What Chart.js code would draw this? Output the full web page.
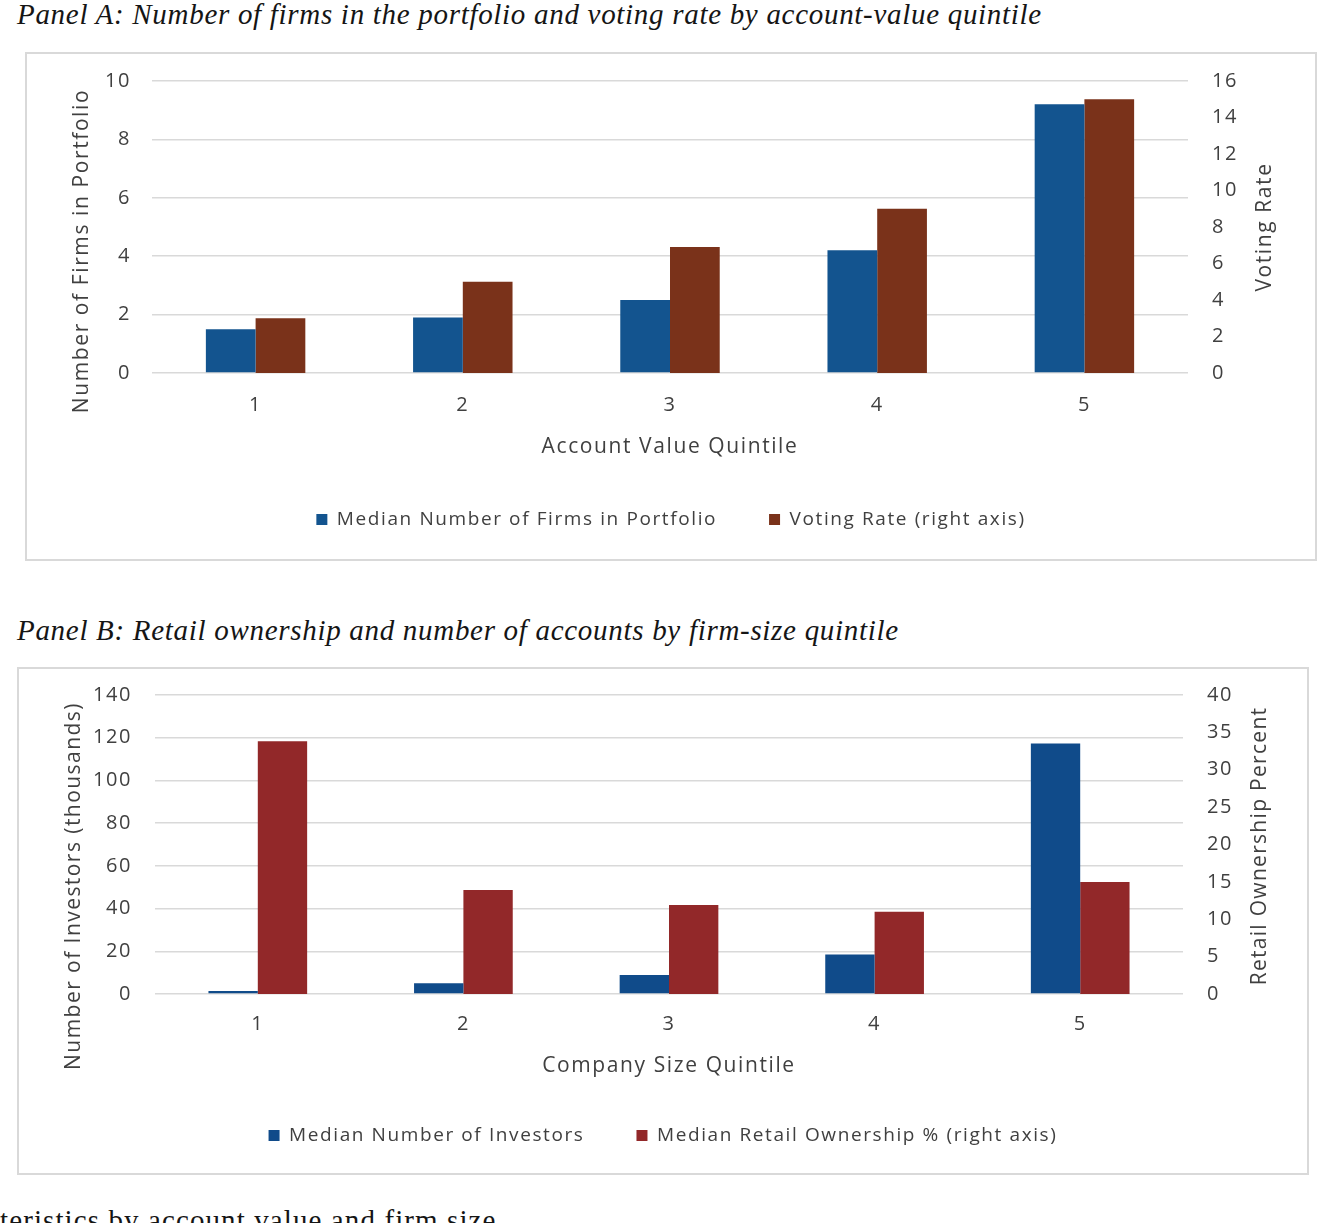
<!DOCTYPE html>
<html>
<head>
<meta charset="utf-8">
<script src="https://cdn.jsdelivr.net/npm/chart.js@4.4.0/dist/chart.umd.min.js"></script>
<style>
  body { margin: 0; background: #fff; width: 1334px; height: 1223px; overflow: hidden; position: relative; }
  .panel-title { position: absolute; left: 17px; font-family: "Liberation Serif", "Times New Roman", serif;
                 font-style: italic; font-size: 29px; line-height: 29px; letter-spacing: 0.7px;
                 color: #151515; white-space: nowrap; }
  .box { position: absolute; border: 2px solid #d9d9d9; }
  .box canvas { position: absolute; left: 0; top: 0; }
  .caption { position: absolute; left: 0; top: 1206px; font-family: "Liberation Serif", "Times New Roman", serif;
             font-size: 29px; line-height: 29px; letter-spacing: 1.1px; color: #151515; white-space: nowrap; }
</style>
</head>
<body>
<div class="panel-title" style="top:0px">Panel A: Number of firms in the portfolio and voting rate by account-value quintile</div>
<div class="box" style="left:25px; top:52px; width:1288px; height:505px">
  <canvas id="panelA" width="1288" height="505"></canvas>
</div>
<div class="panel-title" style="top:616px">Panel B: Retail ownership and number of accounts by firm-size quintile</div>
<div class="box" style="left:17px; top:667px; width:1288px; height:504px">
  <canvas id="panelB" width="1288" height="504"></canvas>
</div>
<div class="caption">teristics by account value and firm size</div>

<script>
// Panel A data
const accountQuintiles = ['1', '2', '3', '4', '5'];
const medianFirms = [1.5, 1.9, 2.5, 4.2, 9.2];
const votingRate = [3.0, 5.0, 6.9, 9.0, 15.0];

// Panel B data
const sizeQuintiles = ['1', '2', '3', '4', '5'];
const medianInvestors = [1.4, 5.0, 8.9, 18.5, 117.3];
const retailOwnership = [33.8, 13.9, 11.9, 11.0, 15.0];

const FONT = '"Open Sans", "Noto Sans", sans-serif';
const TEXT = '#404040';
const SPACING = '1.6px';

// the Excel-style text is spaced wider than Open Sans
const letterSpacing = {
    id: 'letterSpacing',
    beforeLayout(chart) { chart.ctx.letterSpacing = SPACING; },
    beforeDraw(chart) { chart.ctx.letterSpacing = SPACING; }
};

// vertical axis titles, read bottom-to-top on both sides
const sideTitles = {
    id: 'sideTitles',
    afterDraw(chart, args, opts) {
        const ctx = chart.ctx;
        (opts.items || []).forEach(t => {
            ctx.save();
            ctx.translate(t.x, t.y);
            ctx.rotate(-Math.PI / 2);
            ctx.font = `${t.size}px ${FONT}`;
            ctx.letterSpacing = t.spacing;
            ctx.fillStyle = TEXT;
            ctx.textAlign = 'center';
            ctx.textBaseline = 'middle';
            ctx.fillText(t.text, 0, 0);
            ctx.restore();
        });
    }
};

// fixed axis width, and no extra room reserved above/below for the tick labels
function fixWidth(w) {
    return s => {
        s.width = w;
        s.paddingTop = 0;
        s.paddingBottom = 0;
    };
}

function makeChart(id, cfg) {
    const ctx = document.getElementById(id).getContext('2d');
    return new Chart(ctx, {
        type: 'bar',
        data: {
            labels: cfg.labels,
            datasets: [
                { label: cfg.leftLabel, data: cfg.leftData, backgroundColor: cfg.leftColor, yAxisID: 'y' },
                { label: cfg.rightLabel, data: cfg.rightData, backgroundColor: cfg.rightColor, yAxisID: 'y1' }
            ]
        },
        plugins: [letterSpacing, sideTitles],
        options: {
            responsive: false,
            animation: false,
            devicePixelRatio: 1,
            datasets: { bar: { categoryPercentage: 0.48, barPercentage: 1.0, borderWidth: 0 } },
            layout: { padding: cfg.padding },
            plugins: {
                legend: {
                    position: 'bottom',
                    labels: {
                        boxWidth: 11, boxHeight: 11, padding: 52,
                        color: TEXT, font: { family: FONT, size: 19 }
                    }
                },
                tooltip: { enabled: false },
                sideTitles: { items: cfg.titles }
            },
            scales: {
                x: {
                    grid: { display: false },
                    border: { display: false },
                    ticks: { color: TEXT, padding: cfg.xPad, font: { family: FONT, size: 20 } },
                    title: {
                        display: true, text: cfg.xTitle, color: TEXT,
                        padding: { top: 0, bottom: cfg.xTitleShift }, font: { family: FONT, size: 21 }
                    },
                    afterFit: s => { s.height = cfg.xHeight; }
                },
                y: {
                    position: 'left',
                    min: 0, max: cfg.leftMax,
                    grid: { color: '#d9d9d9', lineWidth: 1.5, drawTicks: false },
                    border: { display: false },
                    ticks: { stepSize: cfg.leftStep, color: TEXT, padding: cfg.leftPad, font: { family: FONT, size: 20 } },
                    afterFit: fixWidth(cfg.leftWidth)
                },
                y1: {
                    position: 'right',
                    min: 0, max: cfg.rightMax,
                    grid: { display: false, drawTicks: false },
                    border: { display: false },
                    ticks: { stepSize: cfg.rightStep, color: TEXT, padding: 24, font: { family: FONT, size: 20 } },
                    afterFit: fixWidth(cfg.rightWidth)
                }
            }
        }
    });
}

document.addEventListener('DOMContentLoaded', () => {
    makeChart('panelA', {
        labels: accountQuintiles,
        leftLabel: 'Median Number of Firms in Portfolio', leftData: medianFirms, leftColor: '#13548f',
        rightLabel: 'Voting Rate (right axis)', rightData: votingRate, rightColor: '#7a321a',
        leftMax: 10, leftStep: 2, rightMax: 16, rightStep: 2,
        leftWidth: 125, rightWidth: 127, leftPad: 21, xPad: 12, xHeight: 85, xTitleShift: -2,
        xTitle: 'Account Value Quintile',
        padding: { top: 27, bottom: 20 },
        titles: [
            { text: 'Number of Firms in Portfolio', x: 55, y: 197, size: 21, spacing: '1.6px' },
            { text: 'Voting Rate', x: 1238, y: 173, size: 21, spacing: '1.6px' }
        ]
    });
    makeChart('panelB', {
        labels: sizeQuintiles,
        leftLabel: 'Median Number of Investors', leftData: medianInvestors, leftColor: '#104b8a',
        rightLabel: 'Median Retail Ownership % (right axis)', rightData: retailOwnership, rightColor: '#922829',
        leftMax: 140, leftStep: 20, rightMax: 40, rightStep: 5,
        leftWidth: 136, rightWidth: 124, leftPad: 23, xPad: 10, xHeight: 80, xTitleShift: -5,
        xTitle: 'Company Size Quintile',
        padding: { top: 26, bottom: 18 },
        titles: [
            { text: 'Number of Investors (thousands)', x: 55, y: 217, size: 21, spacing: '1.45px' },
            { text: 'Retail Ownership Percent', x: 1241, y: 177, size: 21, spacing: '1.3px' }
        ]
    });
});
</script>
</body>
</html>
